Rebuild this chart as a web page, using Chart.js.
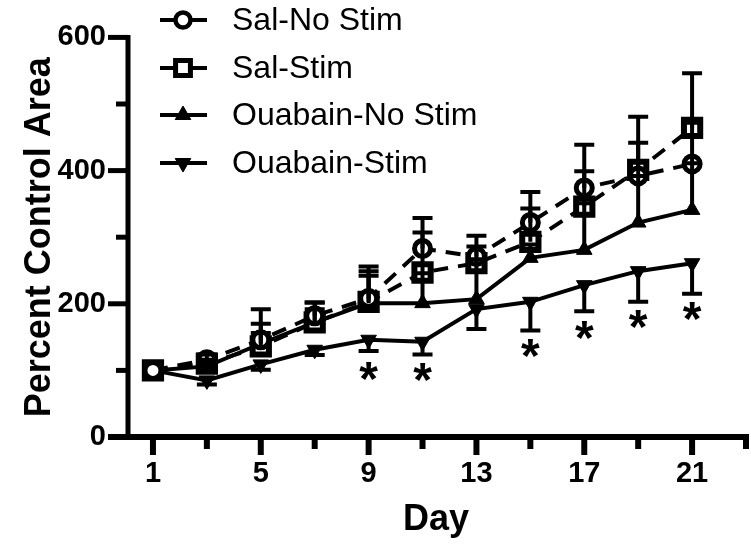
<!DOCTYPE html>
<html>
<head>
<meta charset="utf-8">
<script src="https://cdn.jsdelivr.net/npm/chart.js@4.4.0/dist/chart.umd.min.js"></script>
<style>
  html, body { margin: 0; padding: 0; background: #fff; }
  #wrap { width: 751px; height: 550px; }
</style>
</head>
<body>
<div id="wrap"><canvas id="c" width="751" height="550"></canvas></div>
<script>
/* Percent control area by day — four groups, mean with one-sided error bars. */
const days = [1, 3, 5, 7, 9, 11, 13, 15, 17, 19, 21];

const salNoStim       = [100, 116, 146, 182, 208, 283, 271, 322, 374, 392, 410];
const salNoStimErr    = [0, 8, 46, 20, 48, 46, 31, 46, 65, 50, 62];
const salStim         = [100, 110, 136, 172, 203, 247, 261, 293, 346, 401, 464];
const salStimErr      = [0, 6, 20, 30, 46, 60, 25, 50, 53, 80, 82];
const ouaNoStim       = [100, 106, 140, 172, 201, 201, 207, 269, 281, 322, 341];
const ouaNoStimErr    = [0, 5, 30, 20, 41, 45, 60, 20, 70, 70, 70];
const ouaStim         = [100, 85, 109, 131, 146, 143, 192, 203, 228, 249, 261];
const ouaStimErr      = [0, 6, 8, 8, 17, 19, 30, 43, 39, 46, 46];

const xMajorTicks = [1, 5, 9, 13, 17, 21];
const xMinorTicks = [3, 7, 11, 15, 19, 23];
const yMajorTicks = [0, 200, 400, 600];
const yMinorTicks = [100, 300, 500];

const starDays   = [9, 11, 15, 17, 19, 21];
const starValues = [99, 97, 133, 160, 177, 189];

const legendLabels = ["Sal-No Stim", "Sal-Stim", "Ouabain-No Stim", "Ouabain-Stim"];

const FONT = '"Liberation Sans", Arial, Helvetica, sans-serif';
const INK = "#000";

// error bars: +1 draws up, -1 draws down
const errorSpecs = [
  { values: salNoStim, err: salNoStimErr, dir: 1 },
  { values: salStim, err: salStimErr, dir: 1 },
  { values: ouaNoStim, err: ouaNoStimErr, dir: 1 },
  { values: ouaStim, err: ouaStimErr, dir: -1 },
];

function drawMarker(ctx, style, x, y, r, bw) {
  ctx.save();
  ctx.lineWidth = bw;
  ctx.strokeStyle = INK;
  ctx.beginPath();
  if (style === "circle") {
    ctx.arc(x, y, r, 0, Math.PI * 2);
    ctx.fillStyle = "#fff"; ctx.fill(); ctx.stroke();
  } else if (style === "rect") {
    const s = Math.SQRT1_2 * r;
    ctx.rect(x - s, y - s, 2 * s, 2 * s);
    ctx.fillStyle = "#fff"; ctx.fill(); ctx.stroke();
  } else {
    const sgn = style === "down" ? -1 : 1;
    ctx.moveTo(x, y - sgn * r);
    ctx.lineTo(x + r * 0.866, y + sgn * r * 0.5);
    ctx.lineTo(x - r * 0.866, y + sgn * r * 0.5);
    ctx.closePath();
    ctx.fillStyle = INK; ctx.fill(); ctx.lineWidth = 1; ctx.stroke();
  }
  ctx.restore();
}

const prismAxes = {
  id: "prismAxes",
  beforeDatasetsDraw(chart) {
    const { ctx, chartArea: a, scales: { x, y } } = chart;
    ctx.save();
    ctx.strokeStyle = INK;
    ctx.lineCap = "butt";
    const yAxisX = a.left + 2;
    // y axis line + ticks
    ctx.lineWidth = 5;
    ctx.beginPath();
    ctx.moveTo(yAxisX, y.getPixelForValue(600) - 2.5);
    ctx.lineTo(yAxisX, a.bottom);
    ctx.stroke();
    yMajorTicks.forEach((v) => {
      const py = y.getPixelForValue(v);
      ctx.beginPath(); ctx.moveTo(108, py); ctx.lineTo(yAxisX, py); ctx.stroke();
    });
    yMinorTicks.forEach((v) => {
      const py = y.getPixelForValue(v);
      ctx.beginPath(); ctx.moveTo(116, py); ctx.lineTo(yAxisX, py); ctx.stroke();
    });
    // x axis line + ticks
    ctx.lineWidth = 6;
    ctx.beginPath();
    ctx.moveTo(108, a.bottom);
    ctx.lineTo(x.getPixelForValue(23) + 3, a.bottom);
    ctx.stroke();
    xMajorTicks.forEach((v) => {
      const px = x.getPixelForValue(v);
      ctx.beginPath(); ctx.moveTo(px, a.bottom); ctx.lineTo(px, a.bottom + 18); ctx.stroke();
    });
    xMinorTicks.forEach((v) => {
      const px = x.getPixelForValue(v);
      ctx.beginPath(); ctx.moveTo(px, a.bottom); ctx.lineTo(px, a.bottom + 12); ctx.stroke();
    });
    ctx.restore();
  },
};

const errorBars = {
  id: "errorBars",
  afterDatasetsDraw(chart) {
    const { ctx, scales: { x, y } } = chart;
    ctx.save();
    ctx.strokeStyle = INK;
    ctx.lineWidth = 4;
    errorSpecs.forEach((s) => {
      days.forEach((d, i) => {
        const e = s.err[i];
        if (!e) return;
        const px = x.getPixelForValue(d);
        const p0 = y.getPixelForValue(s.values[i]);
        const p1 = y.getPixelForValue(s.values[i] + s.dir * e);
        ctx.beginPath();
        ctx.moveTo(px, p0); ctx.lineTo(px, p1);
        ctx.moveTo(px - 10, p1); ctx.lineTo(px + 10, p1);
        ctx.stroke();
      });
    });
    ctx.restore();
  },
};

const stars = {
  id: "stars",
  afterDatasetsDraw(chart) {
    const { ctx, scales: { x, y } } = chart;
    ctx.save();
    ctx.fillStyle = INK;
    ctx.font = "bold 48px " + FONT;
    ctx.textAlign = "center";
    ctx.textBaseline = "alphabetic";
    const m = ctx.measureText("*");
    const shift = (m.actualBoundingBoxAscent - m.actualBoundingBoxDescent) / 2;
    starDays.forEach((d, i) => {
      ctx.fillText("*", x.getPixelForValue(d), y.getPixelForValue(starValues[i]) + shift);
    });
    ctx.restore();
  },
};

const sideLegend = {
  id: "sideLegend",
  afterDraw(chart) {
    const { ctx } = chart;
    const rows = [20, 68, 115, 163];
    const markers = [["circle", 7.5, 4.5], ["rect", 10.5, 5], ["up", 9, 1], ["down", 9, 1]];
    ctx.save();
    rows.forEach((ry, i) => {
      ctx.strokeStyle = INK;
      ctx.lineWidth = 4;
      ctx.beginPath(); ctx.moveTo(160, ry); ctx.lineTo(207, ry); ctx.stroke();
      const [st, r, bw] = markers[i];
      drawMarker(ctx, st, 183, ry, r, bw);
      ctx.fillStyle = INK;
      ctx.font = "32px " + FONT;
      ctx.textAlign = "left";
      ctx.textBaseline = "middle";
      ctx.fillText(legendLabels[i], 232, ry + 1);
    });
    ctx.restore();
  },
};

const pts = (vals) => days.map((d, i) => ({ x: d, y: vals[i] }));

const common = { borderColor: INK, borderWidth: 4, tension: 0, clip: false, pointHoverRadius: 0 };

new Chart(document.getElementById("c"), {
  type: "line",
  data: {
    datasets: [
      { ...common, label: legendLabels[0], data: pts(salNoStim), borderDash: [15, 10],
        pointStyle: "circle", pointRadius: 8, pointBorderWidth: 5,
        pointBackgroundColor: "#fff", pointBorderColor: INK },
      { ...common, label: legendLabels[1], data: pts(salStim), borderDash: [15, 10],
        pointStyle: "rect", pointRadius: 11.5, pointBorderWidth: 6,
        pointBackgroundColor: "#fff", pointBorderColor: INK },
      { ...common, label: legendLabels[2], data: pts(ouaNoStim),
        pointStyle: "triangle", pointRadius: 9, pointBorderWidth: 1,
        pointBackgroundColor: INK, pointBorderColor: INK },
      { ...common, label: legendLabels[3], data: pts(ouaStim),
        pointStyle: "triangle", pointRotation: 180, pointRadius: 9, pointBorderWidth: 1,
        pointBackgroundColor: INK, pointBorderColor: INK },
    ],
  },
  options: {
    responsive: false,
    animation: false,
    devicePixelRatio: 1,
    layout: { autoPadding: false, padding: { left: 0, top: 23, right: 5, bottom: 0 } },
    plugins: { legend: { display: false }, tooltip: { enabled: false } },
    scales: {
      x: {
        type: "linear", min: 0, max: 23,
        afterFit: (s) => { s.height = 113; },
        afterBuildTicks: (s) => { s.ticks = xMajorTicks.map((v) => ({ value: v })); },
        grid: { display: false, drawTicks: false },
        border: { display: false },
        ticks: { color: INK, padding: 20, maxRotation: 0, autoSkip: false,
          font: { family: FONT, size: 29, weight: "bold" } },
        title: { display: true, text: "Day", color: INK, padding: { top: 0, bottom: 8 },
          font: { family: FONT, size: 36, weight: "bold" } },
      },
      y: {
        min: 0, max: 600,
        afterFit: (s) => { s.width = 126; },
        afterBuildTicks: (s) => { s.ticks = yMajorTicks.map((v) => ({ value: v })); },
        grid: { display: false, drawTicks: false },
        border: { display: false },
        ticks: { color: INK, padding: 20, font: { family: FONT, size: 29, weight: "bold" } },
        title: { display: true, text: "Percent Control Area", color: INK, padding: { top: 18, bottom: 0 },
          font: { family: FONT, size: 36, weight: "bold" } },
      },
    },
  },
  plugins: [prismAxes, errorBars, stars, sideLegend],
});
</script>
</body>
</html>
